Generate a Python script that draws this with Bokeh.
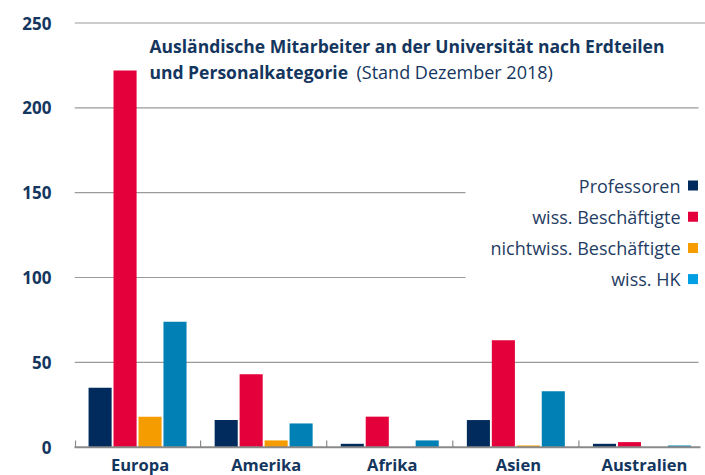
from bokeh.plotting import figure
from bokeh.models import Range1d, FixedTicker, ColumnDataSource
from bokeh.transform import dodge
from bokeh.embed import file_html
from bokeh.resources import INLINE
from bokeh.core.properties import value

# ---- data ----
continents = ["Europa", "Amerika", "Afrika", "Asien", "Australien"]
series = ["Professoren", "wiss. Beschäftigte", "nichtwiss. Beschäftigte", "wiss. HK"]
professoren = [35, 16, 2, 16, 2]
wiss_beschaeftigte = [222, 43, 18, 63, 3]
nichtwiss_beschaeftigte = [18, 4, 0, 1, 0]
wiss_hk = [74, 14, 4, 33, 1]
y_ticks = [0, 50, 100, 150, 200, 250]

title_bold_1 = "Ausländische Mitarbeiter an der Universität nach Erdteilen"
title_bold_2 = "und Personalkategorie"
title_regular = "(Stand Dezember 2018)"

# ---- styling ----
bar_colors = ["#002b5c", "#e4003a", "#f59c00", "#0080b4"]
legend_colors = ["#002b5c", "#e4003a", "#f59c00", "#009fe3"]
NAVY = "#14365e"
FONT = "Open Sans"

W, H = 705, 475
LEFT = 74
ZERO_PY = 446.7
PX_PER_CAT = 126.1
PX_PER_UNIT = 1.6968


def xd(px):
    return (px - LEFT) / PX_PER_CAT


def yd(py):
    return (ZERO_PY - py) / PX_PER_UNIT


p = figure(width=W, height=H, output_backend="svg", toolbar_location=None,
           x_range=Range1d(0, xd(W)), y_range=Range1d(yd(H), yd(0)),
           min_border_left=LEFT, min_border_right=0, min_border_top=0,
           min_border_bottom=0)
p.outline_line_color = None
p.xgrid.visible = False
p.ygrid.visible = False
p.xaxis.visible = False

# gridlines (partial where the legend sits)
grid_x1 = []
for t in y_ticks[1:]:
    if t in (100, 150):
        grid_x1.append(xd(465))
    elif t == 250:
        grid_x1.append(xd(W))
    else:
        grid_x1.append(xd(698))
p.segment(x0=[xd(74)] * len(grid_x1), y0=y_ticks[1:], x1=grid_x1, y1=y_ticks[1:],
          line_color="#9a9a9a", line_width=1.2, level="underlay")

# bars
src = ColumnDataSource(dict(
    x=[i + 0.5 for i in range(len(continents))],
    prof=professoren, wb=wiss_beschaeftigte, nwb=nichtwiss_beschaeftigte, hk=wiss_hk,
    name=continents))
cols = ["prof", "wb", "nwb", "hk"]
offsets = [-0.297, -0.099, 0.099, 0.297]
for c, off, col in zip(cols, offsets, bar_colors):
    p.vbar(x=dodge("x", off), top=c, width=0.183, bottom=0, source=src,
           fill_color=col, line_color=None)

# baseline and category separators
p.segment(x0=[xd(72)], y0=[0], x1=[xd(700)], y1=[0], line_color="#8a8a8a", line_width=2)
sep_x = [float(i) for i in range(len(continents))]
sep_x[0] = xd(75)
p.segment(x0=sep_x, y0=[0] * len(sep_x), x1=sep_x, y1=[4] * len(sep_x),
          line_color="#8a8a8a", line_width=1.2)

# category labels
p.text(x=dodge("x", 0.02), y=yd(463.5), text="name", source=src, text_font=value(FONT),
       text_font_style="bold", text_font_size="16.5px", text_color=NAVY,
       text_align="center", text_baseline="middle")

# y axis
p.yaxis.ticker = FixedTicker(ticks=y_ticks)
p.yaxis.axis_line_color = None
p.yaxis.major_tick_line_color = None
p.yaxis.minor_tick_line_color = None
p.yaxis.major_tick_out = 0
p.yaxis.major_tick_in = 0
p.yaxis.minor_tick_out = 0
p.yaxis.minor_tick_in = 0
p.yaxis.major_label_standoff = 23
p.yaxis.major_label_text_font = FONT
p.yaxis.major_label_text_font_style = "bold"
p.yaxis.major_label_text_font_size = "17px"
p.yaxis.major_label_text_color = NAVY

# title
p.text(x=[xd(149)], y=[yd(45)], text=[title_bold_1], text_font=value(FONT),
       text_font_style="bold", text_font_size="17.5px", text_color=NAVY,
       text_baseline="middle")
p.text(x=[xd(149)], y=[yd(71)], text=[title_bold_2], text_font=value(FONT),
       text_font_style="bold", text_font_size="17.5px", text_color=NAVY,
       text_baseline="middle")
p.text(x=[xd(356)], y=[yd(71)], text=[title_regular], text_font=value(FONT),
       text_font_size="18px", text_color=NAVY, text_baseline="middle")

# legend
leg_y = [yd(185 + 31.2 * i) for i in range(len(series))]
p.text(x=[xd(680)] * len(series), y=leg_y, text=series, text_font=value(FONT),
       text_font_size="18px", text_color="#1f3d63", text_align="right",
       text_baseline="middle")
p.rect(x=[xd(692.5)] * len(series), y=leg_y, width=10, height=10,
       width_units="screen", height_units="screen",
       fill_color=legend_colors, line_color=None)

open("out.html", "w").write(file_html(p, INLINE))
